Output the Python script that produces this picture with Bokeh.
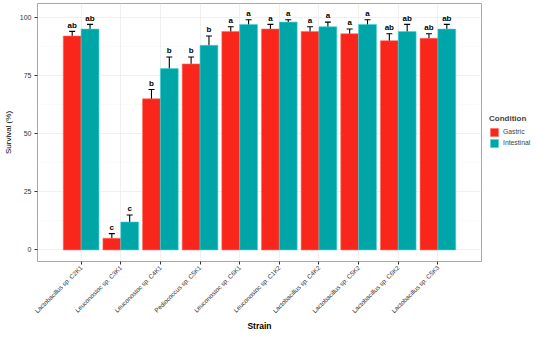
from math import pi
from bokeh.plotting import figure
from bokeh.layouts import row
from bokeh.models import (ColumnDataSource, FactorRange, Range1d, Whisker, TeeHead,
                          Legend, LegendItem, FixedTicker)
from bokeh.transform import dodge
from bokeh.core.properties import value
from bokeh.embed import file_html
from bokeh.resources import INLINE

strains = ["Lactobacillus sp. C2K1", "Leuconostoc sp. C3K1", "Leuconostoc sp. C4K1",
           "Pediococcus sp. C5K1", "Leuconostoc sp. C6K1", "Leuconostoc sp. C1K2",
           "Lactobacillus sp. C4K2", "Lactobacillus sp. C5K2", "Lactobacillus sp. C6K2",
           "Lactobacillus sp. C5K3"]
conditions = ["Gastric", "Intestinal"]
gastric = [92, 5, 65, 80, 94, 95, 94, 93, 90, 91]
gastric_err = [2, 2, 4, 3, 2, 2, 2, 2, 3, 2]
intestinal = [95, 12, 78, 88, 97, 98, 96, 97, 94, 95]
intestinal_err = [2, 3, 5, 4, 2, 1, 2, 2, 3, 2]
gastric_letters = ["ab", "c", "b", "b", "a", "a", "a", "a", "ab", "ab"]
intestinal_letters = ["ab", "c", "b", "b", "a", "a", "a", "a", "ab", "ab"]
y_ticks = [0, 25, 50, 75, 100]
y_minor = [12.5, 37.5, 62.5, 87.5]

RED = "#F8261B"
TEAL = "#00A5A8"
RED_EDGE = "#FF6A5A"
TEAL_EDGE = "#3CD4D6"
FONT = "Liberation Sans"

FW, FH = 444, 258
TOP = 3

def make_source(vals, errs, letters):
    return ColumnDataSource(dict(
        strain=strains, val=vals,
        upper=[v + e for v, e in zip(vals, errs)],
        lower=[v - e for v, e in zip(vals, errs)],
        lab_y=[v + e + 0.8 for v, e in zip(vals, errs)],
        letter=letters))

src_g = make_source(gastric, gastric_err, gastric_letters)
src_i = make_source(intestinal, intestinal_err, intestinal_letters)

p = figure(x_range=FactorRange(factors=strains, range_padding=0.12),
           y_range=Range1d(-5, 106),
           frame_width=FW, frame_height=FH, output_backend="svg", toolbar_location=None,
           min_border_top=TOP, min_border_left=2, min_border_right=8, min_border_bottom=2,
           background_fill_color="white", border_fill_color="white")

off = 0.225
bw = 0.45
p.vbar(x=dodge("strain", -off, range=p.x_range), top="val", bottom=0, width=bw,
       source=src_g, fill_color=RED, line_color=RED_EDGE, line_width=0.6)
p.vbar(x=dodge("strain", off, range=p.x_range), top="val", bottom=0, width=bw,
       source=src_i, fill_color=TEAL, line_color=TEAL_EDGE, line_width=0.6)

for src, o in ((src_g, -off), (src_i, off)):
    w = Whisker(base=dodge("strain", o, range=p.x_range), upper="upper", lower="lower",
                source=src, line_color="black", line_width=1.1,
                upper_head=TeeHead(size=6, line_color="black", line_width=1.1),
                lower_head=TeeHead(size=6, line_color="black", line_width=1.1))
    p.add_layout(w)
    p.text(x=dodge("strain", o, range=p.x_range), y="lab_y", text="letter", source=src,
           text_font=value(FONT), text_font_size="8px", text_font_style="bold",
           text_align="center", text_baseline="bottom", text_color="black")

# grid and frame
p.xgrid.grid_line_color = "#ECECEC"
p.xgrid.grid_line_width = 0.8
p.yaxis.ticker = FixedTicker(ticks=y_ticks, minor_ticks=y_minor)
p.ygrid.grid_line_color = "#ECECEC"
p.ygrid.grid_line_width = 0.8
p.ygrid.minor_grid_line_color = "#F5F5F5"
p.ygrid.minor_grid_line_width = 0.5
p.outline_line_color = "#A8A8A8"
p.outline_line_width = 1.0

for ax in (p.xaxis[0], p.yaxis[0]):
    ax.axis_line_color = None
    ax.major_tick_in = 0
    ax.major_tick_out = 3
    ax.major_tick_line_color = "#333333"
    ax.minor_tick_line_color = None
    ax.major_label_text_font = FONT
    ax.major_label_text_color = "#333333"
    ax.axis_label_text_font = FONT
    ax.axis_label_text_font_style = "normal"
    ax.axis_label_text_color = "black"

p.yaxis.major_label_text_font_size = "7px"
p.yaxis.major_label_standoff = 2
p.yaxis.axis_label = "Survival (%)"
p.yaxis.axis_label_text_font_size = "8px"
p.yaxis.axis_label_standoff = 4

p.xaxis.major_label_orientation = pi / 4
p.xaxis.major_label_text_font_size = "6.3px"
p.xaxis.major_label_standoff = 2
p.xaxis.axis_label = "Strain"
p.xaxis.axis_label_text_font_size = "8.5px"
p.xaxis.axis_label_text_font_style = "bold"
p.xaxis.axis_label_standoff = 1

# legend panel (separate small figure, same colours); its key glyphs sit off-range
lg = figure(x_range=Range1d(0, 1), y_range=Range1d(0, 1),
            frame_width=56, frame_height=TOP + FH, output_backend="svg",
            toolbar_location=None, min_border=0, outline_line_color=None,
            background_fill_color="white", border_fill_color="white")
lg.axis.visible = False
lg.grid.visible = False
r1 = lg.vbar(x="x", top="top", bottom="bottom", width=0.5,
             source=ColumnDataSource(dict(x=[-5], top=[-5], bottom=[-6])),
             fill_color=RED, line_color=RED_EDGE, line_width=0.6)
r2 = lg.vbar(x="x", top="top", bottom="bottom", width=0.5,
             source=ColumnDataSource(dict(x=[-5], top=[-5], bottom=[-6])),
             fill_color=TEAL, line_color=TEAL_EDGE, line_width=0.6)
legend = Legend(items=[LegendItem(label=conditions[0], renderers=[r1]),
                       LegendItem(label=conditions[1], renderers=[r2])],
                title="Condition", location="center_left")
legend.title_text_font = FONT
legend.title_text_font_size = "8px"
legend.title_text_font_style = "bold"
legend.title_standoff = 4
legend.label_text_font = FONT
legend.label_text_font_size = "6.8px"
legend.glyph_width = 10
legend.glyph_height = 10
legend.label_height = 10
legend.label_standoff = 4
legend.spacing = 1
legend.padding = 2
legend.margin = 0
legend.border_line_color = None
legend.background_fill_alpha = 0
lg.add_layout(legend)

layout = row(p, lg)
open("out.html", "w").write(file_html(layout, INLINE))
